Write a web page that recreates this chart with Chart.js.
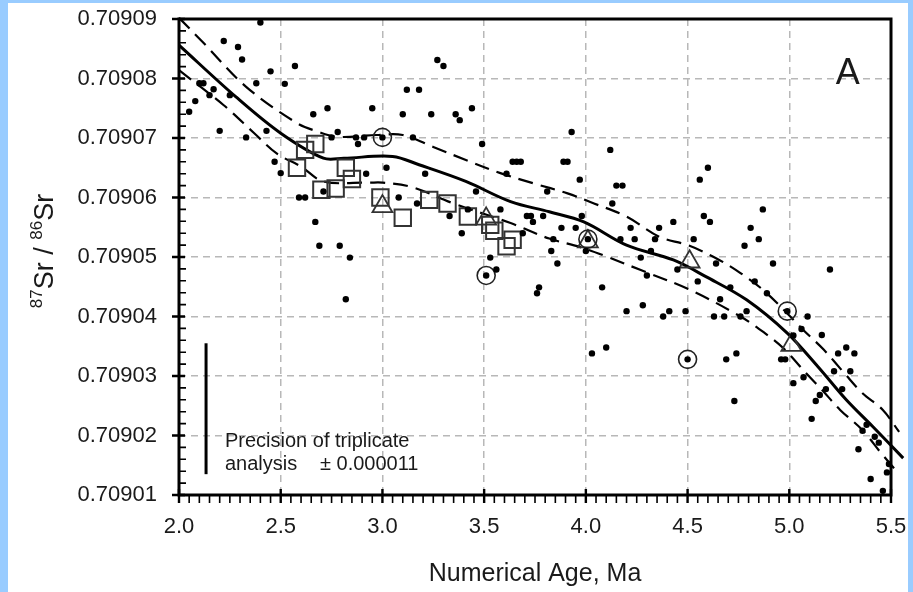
<!DOCTYPE html>
<html><head><meta charset="utf-8">
<script src="https://cdn.jsdelivr.net/npm/chart.js@4.4.1/dist/chart.umd.min.js"></script>
<style>
html,body{margin:0;padding:0;background:#99ccff;overflow:hidden;}
canvas{display:block;}
</style></head><body>
<canvas id="c" width="913" height="592"></canvas>
<script>
// ---- data ----
const dotAge = [2.40,2.22,2.29,2.31,2.45,2.57,2.52,2.38,2.10,2.12,2.17,2.15,2.25,2.08,2.05,2.20,2.33,2.43,2.66,2.73,2.95,3.10,3.12,3.18,2.75,2.78,2.87,2.91,2.88,3.00,3.15,2.47,2.50,2.92,3.02,2.59,2.62,2.71,3.08,3.17,3.27,3.30,3.24,3.36,3.38,3.44,3.93,3.49,4.12,3.21,3.64,3.66,3.68,3.89,3.91,3.61,3.97,4.15,4.18,3.46,3.81,4.13,3.58,4.60,4.56,4.87,2.67,2.69,2.79,2.84,2.82,3.33,3.42,3.39,3.71,3.73,3.74,3.79,3.69,3.84,3.88,3.95,3.98,4.01,4.00,3.83,3.86,3.53,3.56,3.51,3.77,3.76,4.08,4.22,4.17,4.24,4.27,4.30,4.28,4.20,4.58,4.61,4.43,4.36,4.34,4.53,4.81,4.85,4.78,4.92,5.20,4.32,4.64,4.55,4.45,4.71,4.83,4.89,4.66,4.38,4.41,4.49,4.63,4.68,4.76,4.79,4.99,5.09,5.06,5.16,5.02,4.50,4.69,4.74,4.73,4.96,4.98,5.02,5.07,5.13,5.15,5.11,5.18,5.22,5.24,5.28,5.32,5.30,5.26,5.38,5.36,5.42,5.44,5.34,5.40,5.48,5.49,5.46,4.03,4.10];
const dotRatio = [0.7090894,0.7090863,0.7090853,0.7090832,0.7090812,0.7090821,0.7090791,0.7090792,0.7090792,0.7090792,0.7090782,0.7090772,0.7090772,0.7090762,0.7090744,0.7090712,0.7090701,0.7090712,0.7090740,0.7090750,0.7090750,0.7090740,0.7090781,0.7090781,0.7090701,0.7090710,0.7090701,0.7090701,0.7090690,0.7090701,0.7090701,0.7090660,0.7090641,0.7090640,0.7090650,0.7090600,0.7090600,0.7090610,0.7090600,0.7090590,0.7090831,0.7090821,0.7090740,0.7090740,0.7090730,0.7090750,0.7090710,0.7090690,0.7090680,0.7090640,0.7090660,0.7090660,0.7090660,0.7090660,0.7090660,0.7090640,0.7090630,0.7090620,0.7090620,0.7090610,0.7090610,0.7090590,0.7090580,0.7090650,0.7090630,0.7090580,0.7090559,0.7090519,0.7090519,0.7090499,0.7090429,0.7090569,0.7090580,0.7090540,0.7090569,0.7090569,0.7090559,0.7090569,0.7090540,0.7090530,0.7090549,0.7090549,0.7090569,0.7090530,0.7090510,0.7090510,0.7090489,0.7090499,0.7090479,0.7090469,0.7090449,0.7090439,0.7090449,0.7090549,0.7090530,0.7090530,0.7090499,0.7090469,0.7090419,0.7090409,0.7090569,0.7090559,0.7090559,0.7090549,0.7090530,0.7090530,0.7090549,0.7090530,0.7090519,0.7090489,0.7090479,0.7090510,0.7090489,0.7090459,0.7090479,0.7090449,0.7090459,0.7090439,0.7090429,0.7090400,0.7090409,0.7090409,0.7090400,0.7090400,0.7090400,0.7090409,0.7090409,0.7090400,0.7090379,0.7090369,0.7090368,0.7090328,0.7090328,0.7090338,0.7090258,0.7090328,0.7090328,0.7090288,0.7090298,0.7090258,0.7090268,0.7090228,0.7090278,0.7090308,0.7090338,0.7090348,0.7090338,0.7090308,0.7090278,0.7090218,0.7090208,0.7090198,0.7090188,0.7090177,0.7090127,0.7090138,0.7090152,0.7090107,0.7090338,0.7090348];

const circleAge = [3.00,3.51,4.01,4.50,4.99];
const circleRatio = [0.7090701,0.7090469,0.7090530,0.7090328,0.7090409];

const squareAge = [2.62,2.67,2.58,2.82,2.85,2.70,2.77,2.99,3.10,3.23,3.32,3.42,3.53,3.55,3.64,3.61];
const squareRatio = [0.7090680,0.7090690,0.7090650,0.7090650,0.7090631,0.7090613,0.7090615,0.7090600,0.7090566,0.7090596,0.7090590,0.7090568,0.7090554,0.7090544,0.7090529,0.7090518];

const triangleAge = [3.00,3.51,4.01,4.51,5.01];
const triangleRatio = [0.7090585,0.7090564,0.7090526,0.7090492,0.7090352];

const curveAge = [2.00,2.28,2.50,2.71,2.81,3.05,3.18,3.41,3.63,3.82,3.99,4.20,4.43,4.59,4.79,4.99,5.14,5.28,5.41,5.56];
const curveRatio = [0.7090856,0.7090769,0.7090708,0.7090666,0.7090666,0.7090669,0.7090655,0.7090627,0.7090593,0.7090576,0.7090559,0.7090520,0.7090495,0.7090467,0.7090428,0.7090372,0.7090316,0.7090260,0.7090215,0.7090162];

const upperAge = [2.00,2.12,2.33,2.58,2.68,2.78,2.97,3.10,3.25,3.41,3.58,3.74,3.91,4.04,4.20,4.36,4.50,4.64,4.76,4.89,5.07,5.17,5.27,5.36,5.46,5.54];
const upperRatio = [0.7090902,0.7090860,0.7090786,0.7090725,0.7090711,0.7090702,0.7090705,0.7090705,0.7090685,0.7090663,0.7090641,0.7090624,0.7090607,0.7090590,0.7090568,0.7090534,0.7090520,0.7090498,0.7090473,0.7090439,0.7090377,0.7090344,0.7090305,0.7090271,0.7090243,0.7090206];

const lowerAge = [2.00,2.22,2.37,2.48,2.60,2.71,2.93,3.00,3.14,3.35,3.63,3.82,3.97,4.10,4.27,4.51,4.76,4.88,4.97,5.09,5.16,5.25,5.36,5.45,5.54];
const lowerRatio = [0.7090814,0.7090755,0.7090708,0.7090674,0.7090652,0.7090627,0.7090625,0.7090625,0.7090618,0.7090590,0.7090557,0.7090531,0.7090517,0.7090501,0.7090478,0.7090445,0.7090400,0.7090372,0.7090347,0.7090302,0.7090277,0.7090243,0.7090209,0.7090171,0.7090135];

const precisionAge = [2.133,2.133];
const precisionRatio = [0.7090135,0.7090355];

const xTickValues = [2.0,2.5,3.0,3.5,4.0,4.5,5.0,5.5];
const xTickLabels = ['2.0','2.5','3.0','3.5','4.0','4.5','5.0','5.5'];
const yTickValues = [0.70901,0.70902,0.70903,0.70904,0.70905,0.70906,0.70907,0.70908,0.70909];
const yTickLabels = ['0.70901','0.70902','0.70903','0.70904','0.70905','0.70906','0.70907','0.70908','0.70909'];

const xTitle = 'Numerical Age, Ma';
const panelLabel = 'A';
const noteLine1 = 'Precision of triplicate';
const noteLine2a = 'analysis';
const noteLine2b = '\u00B1 0.000011';

// ---- helpers ----
const pts = (xs, ys) => xs.map((x, i) => ({x, y: ys[i]}));
const FONT = '"Liberation Sans", Arial, Helvetica, sans-serif';
const zeroPad = s => { s.paddingTop = 0; s.paddingBottom = 0; s.paddingLeft = 0; s.paddingRight = 0; };

const bgPlugin = {
  id: 'bg',
  beforeDraw(chart) {
    const c = chart.ctx;
    c.save();
    c.fillStyle = '#99ccff';
    c.fillRect(0, 0, chart.width, chart.height);
    c.fillStyle = '#ffffff';
    c.fillRect(8, 3, 900, chart.height - 3);
    c.restore();
  }
};

const framePlugin = {
  id: 'frame',
  afterDraw(chart) {
    const c = chart.ctx, ca = chart.chartArea;
    const xs = chart.scales.x, ys = chart.scales.y;
    c.save();
    c.strokeStyle = '#000';
    c.lineWidth = 1.6;
    c.beginPath();
    for (let i = 0; i < xTickValues.length - 1; i++) {
      const a = xTickValues[i], b = xTickValues[i + 1];
      for (let k = 1; k < 10; k++) {
        const px = xs.getPixelForValue(a + (b - a) * k / 10);
        c.moveTo(px, ca.bottom); c.lineTo(px, ca.bottom + 8);
      }
    }
    for (let i = 0; i < yTickValues.length - 1; i++) {
      const a = yTickValues[i], b = yTickValues[i + 1];
      for (let k = 1; k < 5; k++) {
        const py = ys.getPixelForValue(a + (b - a) * k / 5);
        c.moveTo(ca.left, py); c.lineTo(ca.left + 7, py);
      }
    }
    c.stroke();
    c.lineWidth = 2.4;
    c.beginPath();
    xTickValues.forEach(v => {
      const px = xs.getPixelForValue(v);
      c.moveTo(px, ca.bottom - 6); c.lineTo(px, ca.bottom + 8);
    });
    yTickValues.forEach(v => {
      const py = ys.getPixelForValue(v);
      c.moveTo(ca.left - 7, py); c.lineTo(ca.left + 6, py);
    });
    c.stroke();
    c.lineWidth = 3;
    c.strokeRect(ca.left, ca.top, ca.right - ca.left, ca.bottom - ca.top);

    c.fillStyle = '#1a1a1a';
    c.textBaseline = 'alphabetic';
    c.textAlign = 'left';
    c.font = '20px ' + FONT;
    const tx = xs.getPixelForValue(2.226);
    const ty1 = ys.getPixelForValue(0.7090181);
    const ty2 = ys.getPixelForValue(0.7090142);
    c.fillText(noteLine1, tx, ty1);
    c.fillText(noteLine2a, tx, ty2);
    c.fillText(noteLine2b, xs.getPixelForValue(2.693), ty2);

    c.font = '36px ' + FONT;
    c.fillText(panelLabel, xs.getPixelForValue(5.228), ys.getPixelForValue(0.7090791));

    c.save();
    c.translate(53, 251);
    c.rotate(-Math.PI / 2);
    const parts = [['87', true], ['Sr / ', false], ['86', true], ['Sr', false]];
    const big = '27px ' + FONT, small = '17px ' + FONT;
    let total = 0;
    parts.forEach(p => { c.font = p[1] ? small : big; total += c.measureText(p[0]).width; });
    let x0 = -total / 2;
    parts.forEach(p => {
      c.font = p[1] ? small : big;
      c.fillText(p[0], x0, p[1] ? -11 : 0);
      x0 += c.measureText(p[0]).width;
    });
    c.restore();
    c.restore();
  }
};

const lineClip = {left: 0, top: 3, right: 16, bottom: 0};

new Chart(document.getElementById('c'), {
  type: 'scatter',
  data: {
    datasets: [
      { label: 'samples', data: pts(dotAge, dotRatio), pointRadius: 3.2, pointHoverRadius: 3.2,
        backgroundColor: '#000', borderWidth: 0 },
      { label: 'circled', data: pts(circleAge, circleRatio), pointStyle: 'circle', pointRadius: 9,
        backgroundColor: 'rgba(0,0,0,0)', borderColor: '#222', borderWidth: 1.6 },
      { label: 'squares', data: pts(squareAge, squareRatio), pointStyle: 'rect', pointRadius: 11.6,
        backgroundColor: 'rgba(0,0,0,0)', borderColor: '#333', borderWidth: 2 },
      { label: 'triangles', data: pts(triangleAge, triangleRatio), pointStyle: 'triangle', pointRadius: 11.5,
        backgroundColor: 'rgba(0,0,0,0)', borderColor: '#333', borderWidth: 1.8 },
      { label: 'curve', data: pts(curveAge, curveRatio), showLine: true, pointRadius: 0,
        borderColor: '#000', borderWidth: 3, tension: 0.35, clip: lineClip },
      { label: 'upper', data: pts(upperAge, upperRatio), showLine: true, pointRadius: 0,
        borderColor: '#000', borderWidth: 2.2, borderDash: [15, 8], tension: 0.35, clip: lineClip },
      { label: 'lower', data: pts(lowerAge, lowerRatio), showLine: true, pointRadius: 0,
        borderColor: '#000', borderWidth: 2.2, borderDash: [15, 8], tension: 0.35, clip: lineClip },
      { label: 'precision', data: pts(precisionAge, precisionRatio), showLine: true, pointRadius: 0,
        borderColor: '#000', borderWidth: 3 }
    ]
  },
  options: {
    responsive: false,
    animation: false,
    devicePixelRatio: 1,
    layout: { padding: { top: 19, right: 22, left: 0, bottom: 0 } },
    plugins: { legend: { display: false }, tooltip: { enabled: false } },
    scales: {
      x: {
        type: 'linear', min: 2.0, max: 5.5,
        afterBuildTicks: s => { s.ticks = xTickValues.map(v => ({value: v})); },
        afterFit: s => { s.height = 97; zeroPad(s); },
        ticks: { autoSkip: false, maxRotation: 0, padding: 19, color: '#1a1a1a',
                 font: { family: FONT, size: 22 },
                 callback: (v, i) => xTickLabels[i] },
        grid: { color: '#b8b8b8', lineWidth: 1.5, drawTicks: false, tickLength: 0 },
        border: { display: false, dash: [7, 5] },
        title: { display: true, text: xTitle, color: '#1a1a1a',
                 font: { family: FONT, size: 25 }, padding: { top: 0, bottom: 3 } }
      },
      y: {
        type: 'linear', min: 0.70901, max: 0.70909,
        afterBuildTicks: s => { s.ticks = yTickValues.map(v => ({value: v})); },
        afterFit: s => { s.width = 179; zeroPad(s); },
        ticks: { autoSkip: false, padding: 22, color: '#1a1a1a',
                 font: { family: FONT, size: 22 },
                 callback: (v, i) => yTickLabels[i] },
        grid: { color: '#b8b8b8', lineWidth: 1.5, drawTicks: false, tickLength: 0 },
        border: { display: false, dash: [7, 5] }
      }
    }
  },
  plugins: [bgPlugin, framePlugin]
});
</script>
</body></html>
